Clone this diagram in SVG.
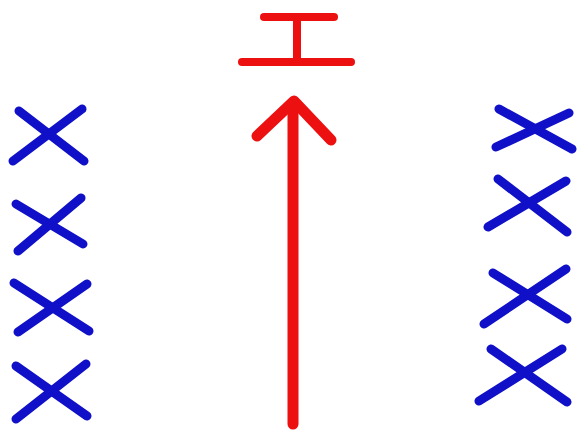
<svg xmlns="http://www.w3.org/2000/svg" width="581" height="430" viewBox="0 0 581 430">
<style>
.x{stroke:#1010c8;stroke-width:9;stroke-linecap:round;fill:none}
.r{stroke:#ec1010;stroke-linecap:round;stroke-linejoin:round;fill:none}
</style>
<rect width="581" height="430" fill="#ffffff"/>
<g id="barrier" class="r" stroke-width="8">
<line x1="264" y1="17" x2="334" y2="17"/>
<line x1="297" y1="17" x2="297" y2="62"/>
<line x1="242" y1="62" x2="351" y2="62"/>
</g>
<g id="arrow" class="r" stroke-width="11">
<line x1="293" y1="104" x2="293" y2="424"/>
<polyline points="257,136 294,101 331,140"/>
</g>
<g id="left-x">
<g class="x"><line x1="19" y1="111" x2="84" y2="161"/><line x1="82" y1="109" x2="13" y2="161"/></g>
<g class="x"><line x1="16" y1="204" x2="83" y2="244"/><line x1="81" y1="198" x2="18" y2="251"/></g>
<g class="x"><line x1="14" y1="283" x2="89" y2="331"/><line x1="87" y1="284" x2="18" y2="332"/></g>
<g class="x"><line x1="16" y1="366" x2="87" y2="416"/><line x1="86" y1="364" x2="16" y2="419"/></g>
</g>
<g id="right-x">
<g class="x"><line x1="499" y1="109" x2="572" y2="149"/><line x1="569" y1="113" x2="496" y2="147"/></g>
<g class="x"><line x1="498" y1="179" x2="567" y2="232"/><line x1="566" y1="181" x2="488" y2="227"/></g>
<g class="x"><line x1="493" y1="273" x2="567" y2="319"/><line x1="566" y1="269" x2="484" y2="324"/></g>
<g class="x"><line x1="491" y1="349" x2="567" y2="402"/><line x1="562" y1="349" x2="479" y2="401"/></g>
</g>
</svg>
